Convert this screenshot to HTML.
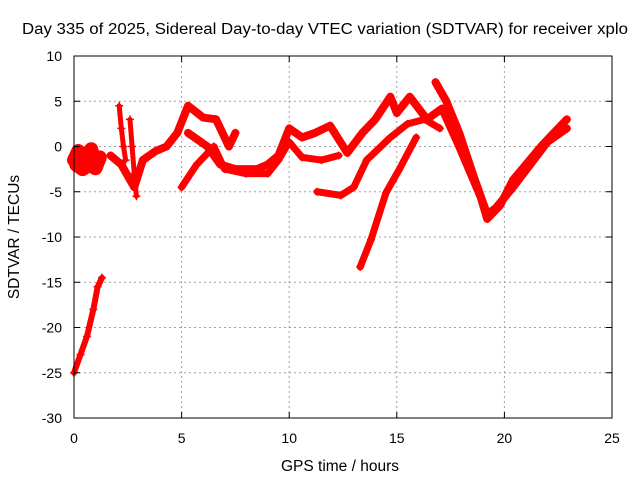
<!DOCTYPE html>
<html><head><meta charset="utf-8"><style>
body{margin:0;background:#fff}
svg text{font-family:"Liberation Sans",sans-serif;font-size:14px;fill:#000}
</style></head><body>
<svg id="chart" width="640" height="480" viewBox="0 0 640 480">
<rect width="640" height="480" fill="#fff"/>
<text x="22" y="34" textLength="606" lengthAdjust="spacingAndGlyphs" style="font-size:15.5px">Day 335 of 2025, Sidereal Day-to-day VTEC variation (SDTVAR) for receiver xplo</text>
<g id="grid"></g><g id="series"></g><g id="axes"></g>
<text x="340" y="471" text-anchor="middle" style="font-size:15.5px">GPS time / hours</text>
<text x="19" y="237" text-anchor="middle" transform="rotate(-90 19 237)" style="font-size:15.5px">SDTVAR / TECUs</text>
</svg>
<script>
const xTicks=[0,5,10,15,20,25];
const yTicks=[10,5,0,-5,-10,-15,-20,-25,-30];
const s1X=[0,0.2,0.4,0.6,0.8,1.0,1.2,1.0,0.7,0.4,0.1];
const s1Y=[-1.5,-0.5,-2.2,-1.0,-0.3,-2.0,-1.2,-2.4,-2.0,-2.5,-2.0];
const s2X=[0,0.3,0.6,0.9,1.1,1.3];
const s2Y=[-25,-23,-21,-18,-15.5,-14.5];
const s3X=[2.1,2.2,2.3,2.4];
const s3Y=[4.5,2,0,-1.5];
const s4X=[2.6,2.7,2.8,2.9];
const s4Y=[3,0,-3,-5.5];
const s5X=[1.7,2.2,2.8,3.2,3.8,4.3,4.8,5.3,6.0,6.6,7.2,7.5];
const s5Y=[-1,-2,-4.5,-1.5,-0.5,0,1.5,4.5,3.2,3,0,1.5];
const s6X=[5.3,6.2,6.8,7.5,8.5,9,9.5,10,10.6,11.2,11.9,12.7,13.4,14.0,14.7,15.0,15.6,16.4,17.1,17.9,18.9,19.2,19.8,20.4,21.0,21.7,22.3,22.9];
const s6Y=[1.5,0,-2,-2.5,-2.5,-2,-1,2,1,1.5,2.3,-0.7,1.5,3,5.5,3.7,5.5,3,4.2,0,-5.6,-8,-6.5,-3.7,-2,0,1.5,3];
const s7X=[5,5.7,6.5,7,8,9,9.5,10,10.6,11.5,12.3];
const s7Y=[-4.5,-2,0,-2.5,-3,-3,-1.5,0.5,-1.2,-1.5,-1];
const s8X=[11.3,12.4,13,13.6,14.7,15.5,16.3,17.0];
const s8Y=[-5,-5.4,-4.5,-1.5,1,2.5,3,2];
const s9X=[13.3,13.8,14.5,15.1,15.9];
const s9Y=[-13.3,-10.3,-5.1,-2.6,1];
const s10X=[16.8,17.3,17.9,18.6,19.2,19.6,20.4,21.2,22.0,22.9];
const s10Y=[7.1,5,1.5,-3.5,-7.5,-6.8,-4.5,-2,0.5,2];
const NS='http://www.w3.org/2000/svg';
const X0=74,X1=612,Y0=418,Y1=56;
const sx=v=>X0+(v-0)/(25-0)*(X1-X0);
const sy=v=>Y0-(v+30)/(40)*(Y0-Y1);
const grid=document.getElementById('grid'),axes=document.getElementById('axes'),ser=document.getElementById('series');
function mk(tag,attrs,parent){const e=document.createElementNS(NS,tag);for(const k in attrs)e.setAttribute(k,attrs[k]);parent.appendChild(e);return e;}
xTicks.forEach(t=>{
 if(t>0&&t<25){const g=mk('line',{x1:sx(t),x2:sx(t),y1:Y1,y2:Y0,stroke:'#a0a0a0','stroke-dasharray':'2,3'},grid);
 
 }
 const l=mk('text',{x:sx(t),y:Y0+25,'text-anchor':'middle'},axes);l.textContent=t;
 
 
 mk('line',{x1:sx(t),x2:sx(t),y1:Y0,y2:Y0-6,stroke:'#000'},axes);
 mk('line',{x1:sx(t),x2:sx(t),y1:Y1,y2:Y1+6,stroke:'#000'},axes);
});
yTicks.forEach(t=>{
 if(t>-30&&t<10){const g=mk('line',{x1:X0,x2:X1,y1:sy(t),y2:sy(t),stroke:'#a0a0a0','stroke-dasharray':'2,3'},grid);
 
 }
 const l=mk('text',{x:X0-12,y:sy(t)+5,'text-anchor':'end'},axes);l.textContent=t;
 
 
 mk('line',{x1:X0,x2:X0+6,y1:sy(t),y2:sy(t),stroke:'#000'},axes);
 mk('line',{x1:X1,x2:X1-6,y1:sy(t),y2:sy(t),stroke:'#000'},axes);
});
const fr=mk('rect',{x:X0,y:Y1,width:X1-X0,height:Y0-Y1,fill:'none',stroke:'#000'},axes);


const all=[[s1X,s1Y,14],[s2X,s2Y,6],[s3X,s3Y,5],[s4X,s4Y,5],[s5X,s5Y,8],[s6X,s6Y,8],[s7X,s7Y,7],[s8X,s8Y,7],[s9X,s9Y,7],[s10X,s10Y,8]];
all.forEach((s,i)=>{
 const pts=s[0].map((x,j)=>sx(x)+','+sy(s[1][j])).join(' ');
 const p=mk('polyline',{points:pts,fill:'none',stroke:'#ff0000','stroke-width':s[2],'stroke-linejoin':'round','stroke-linecap':'round'},ser);
 
 
 s[0].forEach((x,j)=>{
  const cx=sx(x),cy=sy(s[1][j]);
  const m=mk('path',{d:`M${cx-4},${cy}H${cx+4}M${cx},${cy-4}V${cy+4}`,stroke:'#ff0000','stroke-width':1.5},ser);
  
  
 });
});
</script>
</body></html>
